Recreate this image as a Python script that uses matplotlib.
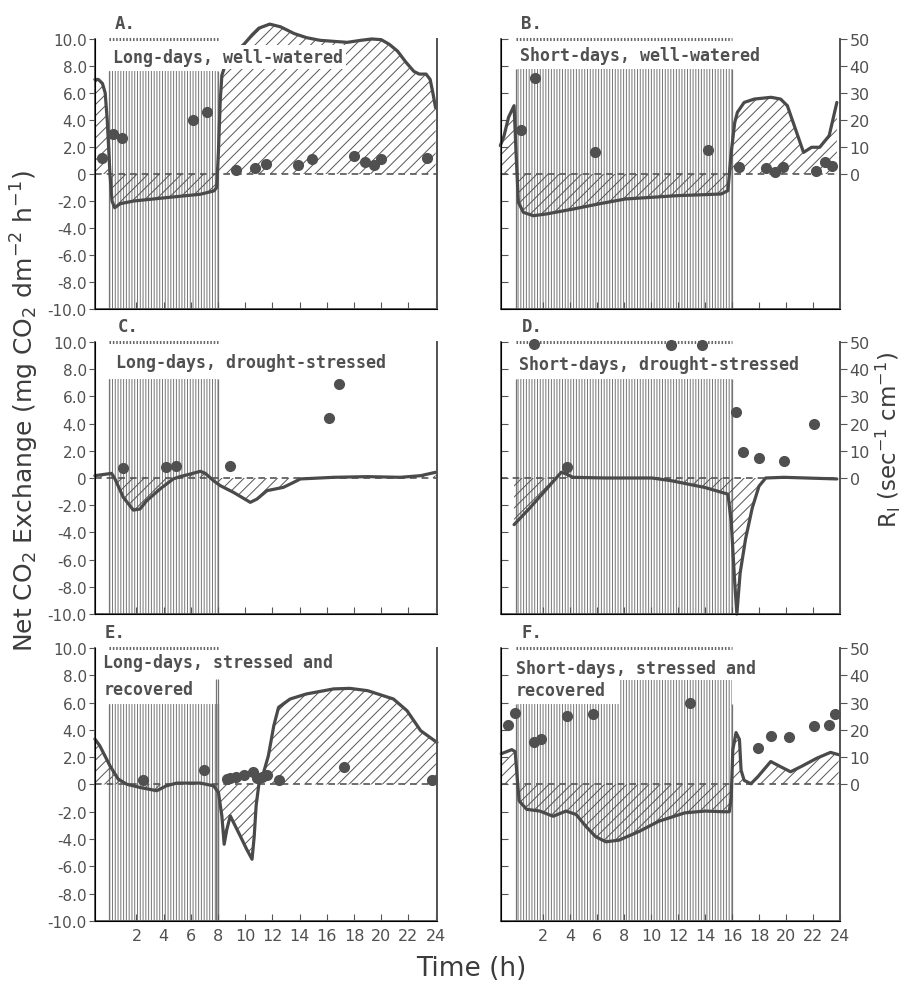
import numpy as np
import matplotlib.pyplot as plt

# Net CO2 exchange curves (mg CO2 dm-2 h-1) and leaf resistance dots (sec cm-1)
hrs_a = [-1.06, -0.8, -0.5, -0.3, -0.15, 0.05, 0.2, 0.4, 0.8, 1.3, 1.8, 4.2, 6.7, 7.7, 7.9,
         8.03, 8.16, 8.28, 8.5, 9.2, 9.9, 10.5, 11.0, 11.8, 12.6, 13.6, 14.5, 15.5, 17.5,
         18.5, 19.3, 20.0, 20.6, 21.2, 21.8, 22.4, 22.8, 23.3, 23.6, 23.8, 24.0]
co2_a = [7.0, 7.0, 6.7, 6.0, 4.0, 0.0, -2.0, -2.5, -2.2, -2.1, -2.0, -1.75, -1.5, -1.25, -1.0,
         1.7, 5.4, 7.3, 8.0, 9.0, 9.6, 10.3, 10.8, 11.1, 10.9, 10.4, 10.1, 9.9, 9.75,
         9.9, 10.0, 9.95, 9.6, 9.1, 8.3, 7.6, 7.4, 7.4, 7.0, 6.0, 4.9]
r_hrs_a = [-0.57, 0.25, 0.9, 6.14, 7.2, 9.3, 10.7, 11.5, 13.9, 14.9, 18.0, 18.8, 19.5, 20.0, 23.4]
r_a = [5.9, 14.8, 13.3, 20.0, 23.0, 1.5, 2.1, 3.7, 3.3, 5.5, 6.8, 4.3, 3.5, 5.5, 5.9]

hrs_b = [-1.17, -0.9, -0.56, -0.15, 0.0, 0.17, 0.54, 1.27, 2.25, 4.2, 6.2, 8.1, 10.0, 12.0,
         14.0, 15.2, 15.7, 15.94, 16.2, 16.4, 16.9, 17.65, 18.9, 19.6, 20.1, 20.7, 21.3,
         21.9, 22.5, 23.2, 23.77]
co2_b = [2.1, 2.8, 4.2, 5.06, 1.5, -2.1, -2.84, -3.09, -2.96, -2.6, -2.2, -1.85, -1.73, -1.6,
         -1.53, -1.48, -1.23, 1.6, 3.8, 4.57, 5.3, 5.55, 5.68, 5.55, 5.06, 3.33, 1.6,
         1.98, 1.98, 2.84, 5.3]
r_hrs_b = [0.37, 1.42, 5.87, 14.2, 16.55, 18.5, 19.2, 19.8, 22.2, 22.9, 23.4]
r_b = [16.4, 35.4, 8.0, 9.0, 2.5, 2.2, 0.6, 2.7, 1.0, 4.3, 3.1]

hrs_c = [-1.06, 0.17, 0.42, 1.03, 1.77, 2.26, 2.75, 3.73, 4.7, 5.2, 5.95, 6.7, 7.05, 7.67,
         8.16, 9.14, 10.37, 10.86, 11.6, 12.8, 13.56, 14.05, 16.5, 19.0, 21.4, 22.9, 24.0]
co2_c = [0.17, 0.34, -0.07, -1.42, -2.36, -2.28, -1.67, -0.81, -0.07, 0.1, 0.29, 0.49, 0.35, -0.2,
         -0.56, -1.06, -1.79, -1.55, -0.93, -0.69, -0.32, -0.07, 0.05, 0.1, 0.05, 0.17, 0.42]
r_hrs_c = [0.98, 4.18, 4.91, 8.85, 16.14, 16.93]
r_c = [3.6, 4.2, 4.5, 4.3, 22.0, 34.4]

hrs_d = [-0.15, 1.03, 2.25, 3.35, 3.72, 4.2, 6.65, 10.07, 11.5, 14.0, 15.7, 15.94, 16.2,
         16.36, 16.6, 17.0, 17.5, 18.0, 18.5, 19.85, 23.77]
co2_d = [-3.43, -2.19, -0.82, 0.42, 0.3, 0.05, 0.0, 0.0, -0.2, -0.7, -1.19, -3.2, -7.66,
         -10.0, -7.0, -4.5, -2.2, -0.6, 0.0, 0.05, -0.07]
r_hrs_d = [1.32, 3.77, 11.47, 13.74, 16.26, 16.82, 18.0, 19.85, 22.1]
r_d = [49.4, 4.2, 49.0, 48.8, 24.3, 9.6, 7.3, 6.2, 19.8]

hrs_e = [-1.06, -0.7, 0.05, 0.66, 1.28, 2.26, 3.49, 4.2, 4.96, 6.7, 7.67, 8.03, 8.28, 8.45,
         8.65, 8.9, 9.14, 9.63, 10.1, 10.5, 10.66, 10.8, 11.0, 11.35, 11.7, 12.1, 12.45,
         13.3, 14.5, 16.5, 17.7, 19.0, 20.9, 21.9, 22.9, 24.1]
co2_e = [3.33, 2.84, 1.37, 0.39, 0.02, -0.22, -0.46, -0.1, 0.1, 0.1, -0.1, -0.59, -2.3, -4.38,
         -3.28, -2.3, -2.79, -3.77, -4.74, -5.48, -3.8, -1.56, 0.0, 0.88, 2.1, 4.3, 5.65,
         6.26, 6.63, 7.0, 7.04, 6.87, 6.26, 5.4, 3.94, 3.08]
r_hrs_e = [2.5, 6.98, 8.65, 8.9, 9.34, 9.93, 10.54, 10.86, 11.2, 11.6, 12.46, 17.25, 23.7]
r_e = [1.7, 5.3, 2.0, 2.2, 2.8, 3.4, 4.4, 2.2, 2.9, 3.5, 1.7, 6.5, 1.7]

hrs_f = [-1.1, -0.32, -0.07, 0.1, 0.22, 0.78, 1.76, 2.74, 3.7, 4.45, 5.18, 5.9, 6.65, 7.63,
         9.1, 10.56, 12.5, 14.0, 15.45, 15.8, 15.94, 16.06, 16.3, 16.55, 16.67, 16.9, 17.4,
         17.9, 18.87, 19.6, 20.34, 21.1, 22.3, 23.3, 23.9]
co2_f = [2.25, 2.55, 2.4, 0.3, -1.2, -1.82, -1.95, -2.33, -1.95, -2.2, -3.08, -3.83, -4.2, -4.08,
         -3.45, -2.7, -2.08, -1.95, -2.0, -2.0, -0.95, 2.55, 3.8, 3.3, 1.05, 0.3, 0.05,
         0.55, 1.68, 1.3, 0.93, 1.3, 1.93, 2.35, 2.18]
r_hrs_f = [-0.61, -0.07, 1.34, 1.88, 3.77, 5.67, 12.9, 17.9, 18.87, 20.2, 22.05, 23.15, 23.6]
r_f = [21.75, 26.1, 15.5, 16.75, 25.0, 25.9, 30.0, 13.4, 17.75, 17.4, 21.25, 21.9, 25.9]

titles = [["Long-days, well-watered"], ["Short-days, well-watered"],
          ["Long-days, drought-stressed"], ["Short-days, drought-stressed"],
          ["Long-days, stressed and", "recovered"], ["Short-days, stressed and", "recovered"]]
letters = ["A.", "B.", "C.", "D.", "E.", "F."]
dark_end = [8, 16, 8, 16, 8, 16]   # dark period 0 -> 8 h (long days) or 0 -> 16 h (short days)

co2_ticks = [10, 8, 6, 4, 2, 0, -2, -4, -6, -8, -10]
co2_labels = ["10.0", "8.0", "6.0", "4.0", "2.0", "0", "-2.0", "-4.0", "-6.0", "-8.0", "-10.0"]
time_ticks = [2, 4, 6, 8, 10, 12, 14, 16, 18, 20, 22, 24]
r_ticks = [0, 10, 20, 30, 40, 50]

plt.rcParams['hatch.linewidth'] = 0.7
INK = "#4a4a4a"
TXT = "#505050"
HATCH = "#757575"
mono = "DejaVu Sans Mono"

fig = plt.figure(figsize=(9.03, 9.87), dpi=100)

# axes boxes in figure fractions: left column / right column, three rows
cols = [(0.1052, 0.3787, -1.05, 24.1), (0.5548, 0.3754, -1.12, 23.8)]
rows = [(0.6859, 0.2736), (0.3769, 0.2756), (0.0659, 0.2766)]
hatch_top = [7.6, 7.8, 7.3, 7.3, 5.9, None]
# left x of label, y of each line
label_pos = [(0.3, [8.65]), (0.3, [8.8]), (0.5, [8.5]), (0.2, [8.4]),
             (-0.45, [9.0, 7.0]), (0.0, [8.55, 6.9])]

data = [(hrs_a, co2_a, r_hrs_a, r_a), (hrs_b, co2_b, r_hrs_b, r_b),
        (hrs_c, co2_c, r_hrs_c, r_c), (hrs_d, co2_d, r_hrs_d, r_d),
        (hrs_e, co2_e, r_hrs_e, r_e), (hrs_f, co2_f, r_hrs_f, r_f)]

for i, (hrs, co2, r_hrs, r_vals) in enumerate(data):
    row, col = divmod(i, 2)
    left, width, x0, x1 = cols[col]
    bottom, height = rows[row]
    ax = fig.add_axes([left, bottom, width, height])
    ax.set_xlim(x0, x1)
    ax.set_ylim(-10, 10)

    # dark period: dense vertical hatching
    if hatch_top[i] is not None:
        ax.fill_between([0, dark_end[i]], -10, hatch_top[i], facecolor="none",
                        edgecolor=HATCH, hatch="||||||", lw=0, zorder=1)
    else:
        ax.fill_between([0, 7.6], -10, 5.9, facecolor="none",
                        edgecolor=HATCH, hatch="||||||", lw=0, zorder=1)
        ax.fill_between([7.6, dark_end[i]], -10, 7.7, facecolor="none",
                        edgecolor=HATCH, hatch="||||||", lw=0, zorder=1)
    ax.vlines([0, dark_end[i]], -10, 5.9 if hatch_top[i] is None else hatch_top[i],
              color=HATCH, lw=0.9, zorder=1)
    if i == 4:
        ax.vlines([7.85, 8.0], -10, 7.7, color=HATCH, lw=0.9, zorder=1)
    ax.plot([0, dark_end[i]], [10, 10], color="#666666", lw=2.2,
            linestyle=(0, (0.5, 0.6)), zorder=3, clip_on=False)

    # CO2 curve with diagonal hatching down to zero
    ax.fill_between(hrs, co2, 0, facecolor="none", edgecolor="#555555",
                    hatch="///", lw=0, zorder=2, clip_on=False)
    ax.axhline(0, color="#555555", lw=1.2, dashes=(4, 3), zorder=2)
    ax.plot(hrs, co2, color=INK, lw=2.3, zorder=4, clip_on=False,
            solid_joinstyle="round", solid_capstyle="round")

    tx, tys = label_pos[i]
    for line, ty in zip(titles[i], tys):
        ax.text(tx, ty, line, family=mono, fontweight="bold", fontsize=12, color=TXT,
                ha="left", va="center", zorder=6,
                bbox=dict(facecolor="white", edgecolor="none", pad=2))
    ax.text(tx + 0.1 if i % 2 == 0 else 0.4, 11.2, letters[i], family=mono,
            fontweight="bold", fontsize=12.5, color=TXT, ha="left", va="center")

    for s in ["left", "right", "bottom"]:
        ax.spines[s].set_color("#555555")
        ax.spines[s].set_linewidth(1.3)
    ax.spines["top"].set_visible(False)

    ax.set_xticks(time_ticks)
    ax.tick_params(axis="x", direction="in", length=5, color="#555555",
                   labelsize=11.5, labelcolor=TXT, pad=5)
    if row < 2:
        ax.set_xticklabels([])
    ax.set_yticks(co2_ticks)
    if col == 0:
        ax.set_yticklabels(co2_labels)
        ax.tick_params(axis="y", direction="out", length=4, color="#555555",
                       labelsize=11, labelcolor=TXT, pad=2)
    else:
        ax.set_yticklabels([])
        ax.tick_params(axis="y", direction="in", length=5, color="#555555")

    # leaf resistance on a twin axis (0 at CO2 zero, 50 at CO2 10)
    ax2 = ax.twinx()
    ax2.set_ylim(-50, 50)
    ax2.plot(r_hrs, r_vals, "o", color="#505050", ms=7, zorder=5, clip_on=False)
    ax2.spines["top"].set_visible(False)
    ax2.spines["right"].set_color("#555555")
    ax2.spines["right"].set_linewidth(1.3)
    if col == 1:
        ax2.set_yticks(r_ticks)
        ax2.tick_params(axis="y", direction="out", length=5, color="#555555",
                        labelsize=11.5, labelcolor=TXT, pad=2)
    else:
        ax2.set_yticks([])

fig.text(0.028, 0.583, r"Net CO$_2$ Exchange (mg CO$_2$ dm$^{-2}$ h$^{-1}$)",
         rotation=90, ha="center", va="center", fontsize=18, color="#3c3c3c")
fig.text(0.984, 0.554, r"R$_\mathregular{l}$ (sec$^{-1}$ cm$^{-1}$)",
         rotation=90, ha="center", va="center", fontsize=16.5, color="#3c3c3c")
fig.text(0.522, 0.018, "Time (h)", ha="center", va="center", fontsize=19, color="#3c3c3c")

fig.savefig("out.png", dpi=100)
